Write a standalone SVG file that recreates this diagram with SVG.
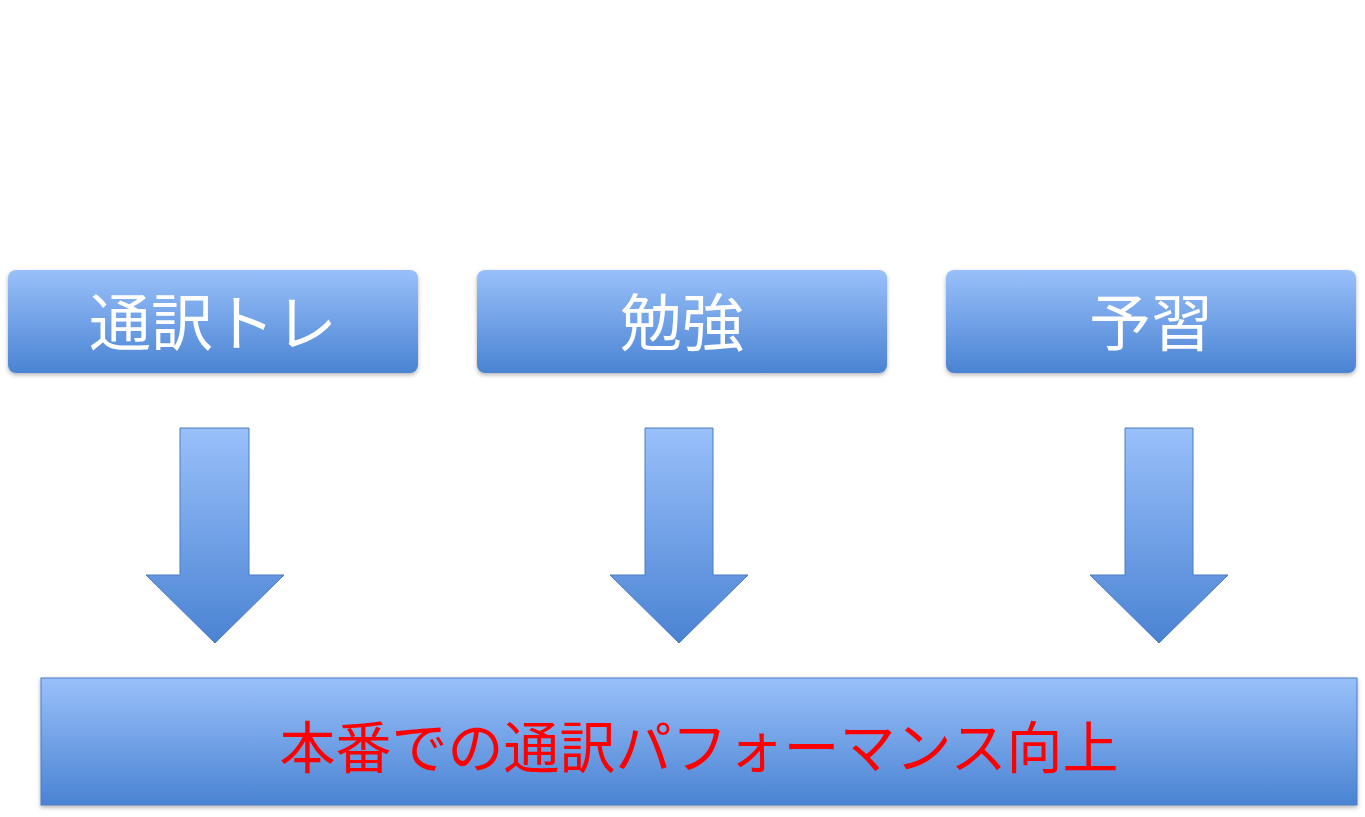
<svg xmlns="http://www.w3.org/2000/svg" width="1365" height="817" viewBox="0 0 1365 817">
<defs>
<linearGradient id="g" x1="0" y1="0" x2="0" y2="1"><stop offset="0" stop-color="#99c0fa"/><stop offset="1" stop-color="#4a83d3"/></linearGradient>
<filter id="sh" x="-5%" y="-5%" width="110%" height="120%"><feDropShadow dx="0" dy="2" stdDeviation="2" flood-color="#000" flood-opacity="0.3"/></filter>
</defs>
<style>
.box{fill:url(#g);filter:url(#sh)}
.arr{fill:url(#g);stroke:#4a7cc0;stroke-width:1}
.t{font-family:"Noto Sans CJK JP",sans-serif;text-anchor:middle}
.w{fill:#fff;font-size:62px}
.r{fill:#f00;font-size:56px}
</style>
<rect width="1365" height="817" fill="#fff"/>
<g id="n1"><rect class="box" x="8" y="270" width="410" height="103" rx="8"/><text class="t w" x="213" y="346">通訳トレ</text></g>
<g id="n2"><rect class="box" x="477" y="270" width="410" height="103" rx="8"/><text class="t w" x="682" y="346">勉強</text></g>
<g id="n3"><rect class="box" x="946" y="270" width="410" height="103" rx="8"/><text class="t w" x="1151" y="346">予習</text></g>
<g id="connectors">
<path class="arr" d="M180,428H249V575H284L215,643L146,575H180Z"/>
<path class="arr" d="M645,428H713V575H748L679,643L610,575H645Z"/>
<path class="arr" d="M1125,428H1193V575H1228L1159,643L1090,575H1125Z"/>
</g>
<g id="n4"><rect x="41" y="678" width="1316" height="127" fill="url(#g)" stroke="#4a7cc0" stroke-width="1" filter="url(#sh)"/><text class="t r" x="699" y="768">本番での通訳パフォーマンス向上</text></g>
</svg>
